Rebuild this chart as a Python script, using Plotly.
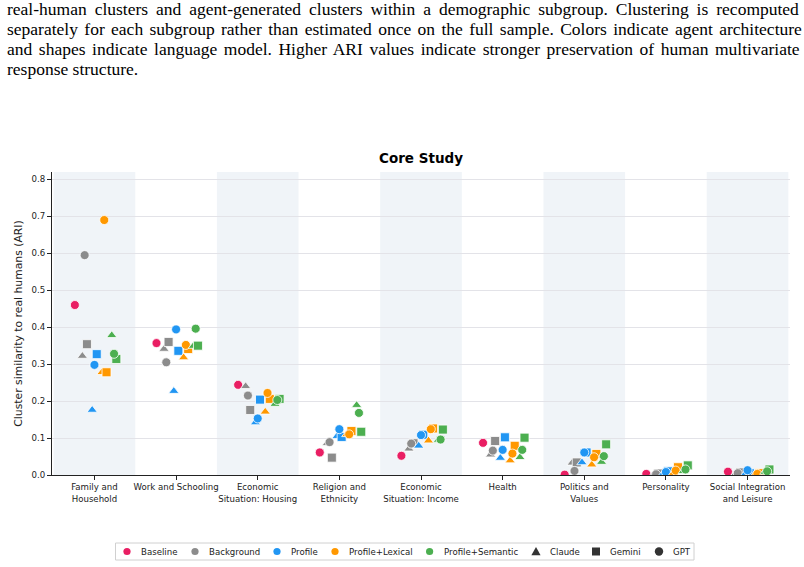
import plotly.graph_objects as go

categories = ["Family and<br>Household", "Work and Schooling", "Economic<br>Situation: Housing",
              "Religion and<br>Ethnicity", "Economic<br>Situation: Income", "Health",
              "Politics and<br>Values", "Personality", "Social Integration<br>and Leisure"]

architectures = ["Baseline", "Background", "Profile", "Profile+Lexical", "Profile+Semantic"]
models = ["Claude", "Gemini", "GPT"]

# ARI values per architecture and model (one value per category)
baseline_gpt = [0.460, 0.357, 0.244, 0.061, 0.052, 0.087, 0.001, 0.003, 0.009]

background_claude = [0.322, 0.341, 0.240, 0.086, 0.071, 0.055, 0.033, 0.002, 0.003]
background_gemini = [0.354, 0.360, 0.176, 0.047, 0.086, 0.092, 0.034, 0.004, 0.007]
background_gpt    = [0.595, 0.305, 0.215, 0.089, 0.085, 0.066, 0.011, 0.002, 0.005]

profile_claude = [0.176, 0.227, 0.142, 0.105, 0.079, 0.046, 0.034, 0.005, 0.003]
profile_gemini = [0.327, 0.336, 0.204, 0.103, 0.109, 0.102, 0.061, 0.010, 0.005]
profile_gpt    = [0.298, 0.394, 0.153, 0.124, 0.108, 0.068, 0.061, 0.008, 0.013]

lexical_claude = [0.278, 0.318, 0.171, 0.110, 0.093, 0.039, 0.028, 0.005, 0.002]
lexical_gemini = [0.278, 0.341, 0.206, 0.119, 0.126, 0.079, 0.057, 0.021, 0.005]
lexical_gpt    = [0.690, 0.352, 0.222, 0.110, 0.124, 0.058, 0.048, 0.012, 0.003]

semantic_claude = [0.378, 0.349, 0.192, 0.189, 0.095, 0.048, 0.035, 0.010, 0.008]
semantic_gemini = [0.314, 0.350, 0.206, 0.117, 0.123, 0.101, 0.083, 0.026, 0.015]
semantic_gpt    = [0.328, 0.396, 0.203, 0.168, 0.096, 0.068, 0.051, 0.015, 0.010]

series = {
    "Baseline": {"GPT": baseline_gpt},
    "Background": {"Claude": background_claude, "Gemini": background_gemini, "GPT": background_gpt},
    "Profile": {"Claude": profile_claude, "Gemini": profile_gemini, "GPT": profile_gpt},
    "Profile+Lexical": {"Claude": lexical_claude, "Gemini": lexical_gemini, "GPT": lexical_gpt},
    "Profile+Semantic": {"Claude": semantic_claude, "Gemini": semantic_gemini, "GPT": semantic_gpt},
}

caption_lines = [
    "real-human clusters and agent-generated clusters within a demographic subgroup. Clustering is recomputed",
    "separately for each subgroup rather than estimated once on the full sample. Colors indicate agent architecture",
    "and shapes indicate language model. Higher ARI values indicate stronger preservation of human multivariate",
    "response structure.",
]

# ---- styling / layout ----
colors = {"Baseline": "#E91E63", "Background": "#8C8C8C", "Profile": "#2196F3",
          "Profile+Lexical": "#FF9800", "Profile+Semantic": "#4CAF50"}
symbols = {"Claude": "triangle-up", "Gemini": "square", "GPT": "circle"}
arch_off = {"Baseline": -0.24, "Background": -0.12, "Profile": 0.0,
            "Profile+Lexical": 0.12, "Profile+Semantic": 0.24}
model_off = {"Claude": -0.028, "Gemini": 0.028, "GPT": 0.0}

W, H = 804, 567
ML, MR, MT, MB = 52, 14, 172, 92
PW, PH = W - ML - MR, H - MT - MB


def px_x(p):
    return (p - ML) / PW


def px_y(p):
    return (H - MB - p) / PH


fig = go.Figure()

for arch in architectures:
    for model in ["Claude", "Gemini", "GPT"]:
        if model not in series[arch]:
            continue
        vals = series[arch][model]
        xs = [i + arch_off[arch] + model_off[model] for i in range(len(categories))]
        fig.add_trace(go.Scatter(
            x=xs, y=vals, mode="markers", showlegend=False,
            name=f"{arch} / {model}",
            marker=dict(color=colors[arch], symbol=symbols[model], size=9,
                        line=dict(color="white", width=0.8)),
        ))

shapes = []
for i in range(0, len(categories), 2):
    shapes.append(dict(type="rect", xref="x", yref="paper", x0=i - 0.5, x1=i + 0.5, y0=0, y1=1,
                       fillcolor="#f0f4f8", line=dict(width=0), layer="below"))

annotations = []
# caption (justified via word spacing)
word_spacing = [3.6, 2.0, 2.2, 0]
for k, line in enumerate(caption_lines):
    txt = line if word_spacing[k] == 0 else f'<span style="word-spacing:{word_spacing[k]}px">{line}</span>'
    annotations.append(dict(text=txt, xref="paper", yref="paper", x=px_x(5), y=px_y(8.5 + 20.3 * k),
                            xanchor="left", yanchor="middle", showarrow=False,
                            font=dict(family="Liberation Serif", size=17.5, color="black")))

# custom legend
legend_items = [("Baseline", colors["Baseline"], "circle"),
                ("Background", colors["Background"], "circle"),
                ("Profile", colors["Profile"], "circle"),
                ("Profile+Lexical", colors["Profile+Lexical"], "circle"),
                ("Profile+Semantic", colors["Profile+Semantic"], "circle"),
                ("Claude", "#333333", "triangle"),
                ("Gemini", "#333333", "square"),
                ("GPT", "#333333", "circle")]
legend_marker_px = [127, 195, 277, 335, 429.6, 536, 596, 659]
legend_y_px = 551.5
shapes.append(dict(type="rect", xref="paper", yref="paper", x0=px_x(115.5), x1=px_x(694),
                   y0=px_y(543), y1=px_y(560), fillcolor="white",
                   line=dict(color="#d0d0d0", width=1), layer="above"))
for (label, col, sym), mx in zip(legend_items, legend_marker_px):
    base = dict(xref="paper", yref="paper", xsizemode="pixel", ysizemode="pixel",
                xanchor=px_x(mx), yanchor=px_y(legend_y_px), fillcolor=col,
                line=dict(width=0), layer="above")
    if sym == "circle":
        r = 3.6 if col != "#333333" else 4.2
        shapes.append(dict(type="circle", x0=-r, x1=r, y0=-r, y1=r, **base))
    elif sym == "square":
        shapes.append(dict(type="rect", x0=-4, x1=4, y0=-4, y1=4, **base))
    else:
        shapes.append(dict(type="path", path="M-4.6,-3.8 L4.6,-3.8 L0,4.6 Z", **base))
    annotations.append(dict(text=label, xref="paper", yref="paper", x=px_x(mx + 12), y=px_y(legend_y_px),
                            xanchor="left", yanchor="middle", showarrow=False,
                            font=dict(family="DejaVu Sans", size=8.6, color="#222")))

fig.update_layout(
    width=W, height=H,
    margin=dict(l=ML, r=MR, t=MT, b=MB, autoexpand=False),
    paper_bgcolor="white", plot_bgcolor="white",
    font=dict(family="DejaVu Sans", size=10, color="#222"),
    title=dict(text="<b>Core Study</b>", x=0.5, xref="paper", xanchor="center",
               y=1 - 158 / H, yanchor="middle", font=dict(size=13.5, color="black")),
    shapes=shapes,
    annotations=annotations,
    showlegend=False,
)

fig.update_xaxes(range=[-0.52, 8.52], tickmode="array", tickvals=list(range(len(categories))),
                 ticktext=categories, tickangle=0, automargin=False, showgrid=False, zeroline=False,
                 showline=True, linecolor="#222", linewidth=1.2,
                 ticks="outside", ticklen=4, tickcolor="#222", tickfont=dict(size=8.6))
fig.update_yaxes(range=[0, 0.82], tickvals=[0, 0.1, 0.2, 0.3, 0.4, 0.5, 0.6, 0.7, 0.8], tickformat=".1f",
                 automargin=False, showgrid=True, gridcolor="#e3e3e8", gridwidth=1, zeroline=False,
                 showline=True, linecolor="#222", linewidth=1.2,
                 ticks="outside", ticklen=4, tickcolor="#222", tickfont=dict(size=8.6),
                 title=dict(text="Cluster similarity to real humans (ARI)", font=dict(size=10.8), standoff=6))

fig.write_html("out.html")
